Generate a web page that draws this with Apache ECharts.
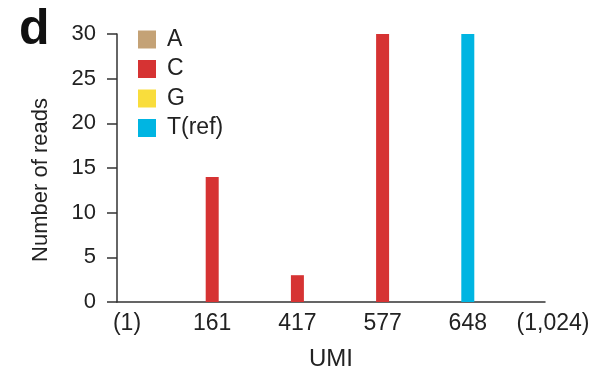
<!DOCTYPE html>
<html>
<head>
<meta charset="utf-8">
<script src="https://cdn.jsdelivr.net/npm/echarts@6/dist/echarts.min.js"></script>
<style>html,body{margin:0;padding:0;background:#fff}#c{width:596px;height:373px}</style>
</head>
<body>
<div id="c"></div>
<script>
var categories = ['(1)', '161', '417', '577', '648', '(1,024)'];
var seriesNames = ['A', 'C', 'G', 'T(ref)'];
var valuesA = ['-', '-', '-', '-', '-', '-'];
var valuesC = ['-', 14, 3, 30, '-', '-'];
var valuesG = ['-', '-', '-', '-', '-', '-'];
var valuesT = ['-', '-', '-', '-', 30, '-'];
var yTicks = [0, 5, 10, 15, 20, 25, 30];

var colors = ['#C4A276', '#D63333', '#F9DD3C', '#00B5E2'];
var font = 'Liberation Sans, Arial, sans-serif';
var txt = '#222';
var chart = echarts.init(document.getElementById('c'));
var allValues = [valuesA, valuesC, valuesG, valuesT];
chart.setOption({
  animation: false,
  color: colors,
  textStyle: {fontFamily: font},
  title: {text: 'd', left: 19, top: 5, padding: 0, textStyle: {fontSize: 50, fontWeight: 'bold', color: '#111', fontFamily: font}},
  legend: {
    data: seriesNames, orient: 'vertical', left: 138, top: 28, padding: 0,
    itemWidth: 18, itemHeight: 18, itemGap: 6.5, icon: 'rect',
    textStyle: {fontSize: 23, color: txt, fontFamily: font, padding: [0, 0, 0, 6]}
  },
  grid: [
    {left: 117, right: 51, top: 34, bottom: 71, containLabel: false, outerBoundsMode: 'none'},
    {left: 127, right: 43, top: 34, bottom: 71, containLabel: false, outerBoundsMode: 'none'}
  ],
  xAxis: [
    {type: 'value', gridIndex: 0, min: 0, max: 1, splitLine: {show: false},
     axisLine: {show: true, onZero: false, lineStyle: {color: '#333', width: 1.5}},
     axisTick: {show: false}, axisLabel: {show: false},
     name: 'UMI', nameLocation: 'middle', nameGap: 45,
     nameTextStyle: {fontSize: 24, color: txt, fontFamily: font}},
    {type: 'category', gridIndex: 1, data: categories, boundaryGap: false,
     axisLine: {show: false}, axisTick: {show: false},
     axisLabel: {fontSize: 23, color: txt, margin: 10, fontFamily: font, interval: 0}}
  ],
  yAxis: [
    {type: 'value', gridIndex: 0, min: yTicks[0], max: yTicks[yTicks.length - 1], interval: 5,
     splitLine: {show: false},
     axisLine: {show: true, lineStyle: {color: '#333', width: 1.5}},
     axisTick: {show: true, length: 10, lineStyle: {color: '#333', width: 1.5}},
     axisLabel: {fontSize: 22, color: txt, margin: 21, fontFamily: font},
     name: 'Number of reads', nameLocation: 'middle', nameGap: 65, nameRotate: 90,
     nameTextStyle: {fontSize: 22, color: txt, fontFamily: font, padding: [0, 24, 0, 0]}},
    {type: 'value', gridIndex: 1, min: 0, max: 30, show: false}
  ],
  series: seriesNames.map(function (n, i) {
    return {name: n, type: 'bar', xAxisIndex: 1, yAxisIndex: 1,
      data: allValues[i], barWidth: 13, barGap: '-100%',
      itemStyle: {color: colors[i]}};
  })
});
</script>
</body>
</html>
